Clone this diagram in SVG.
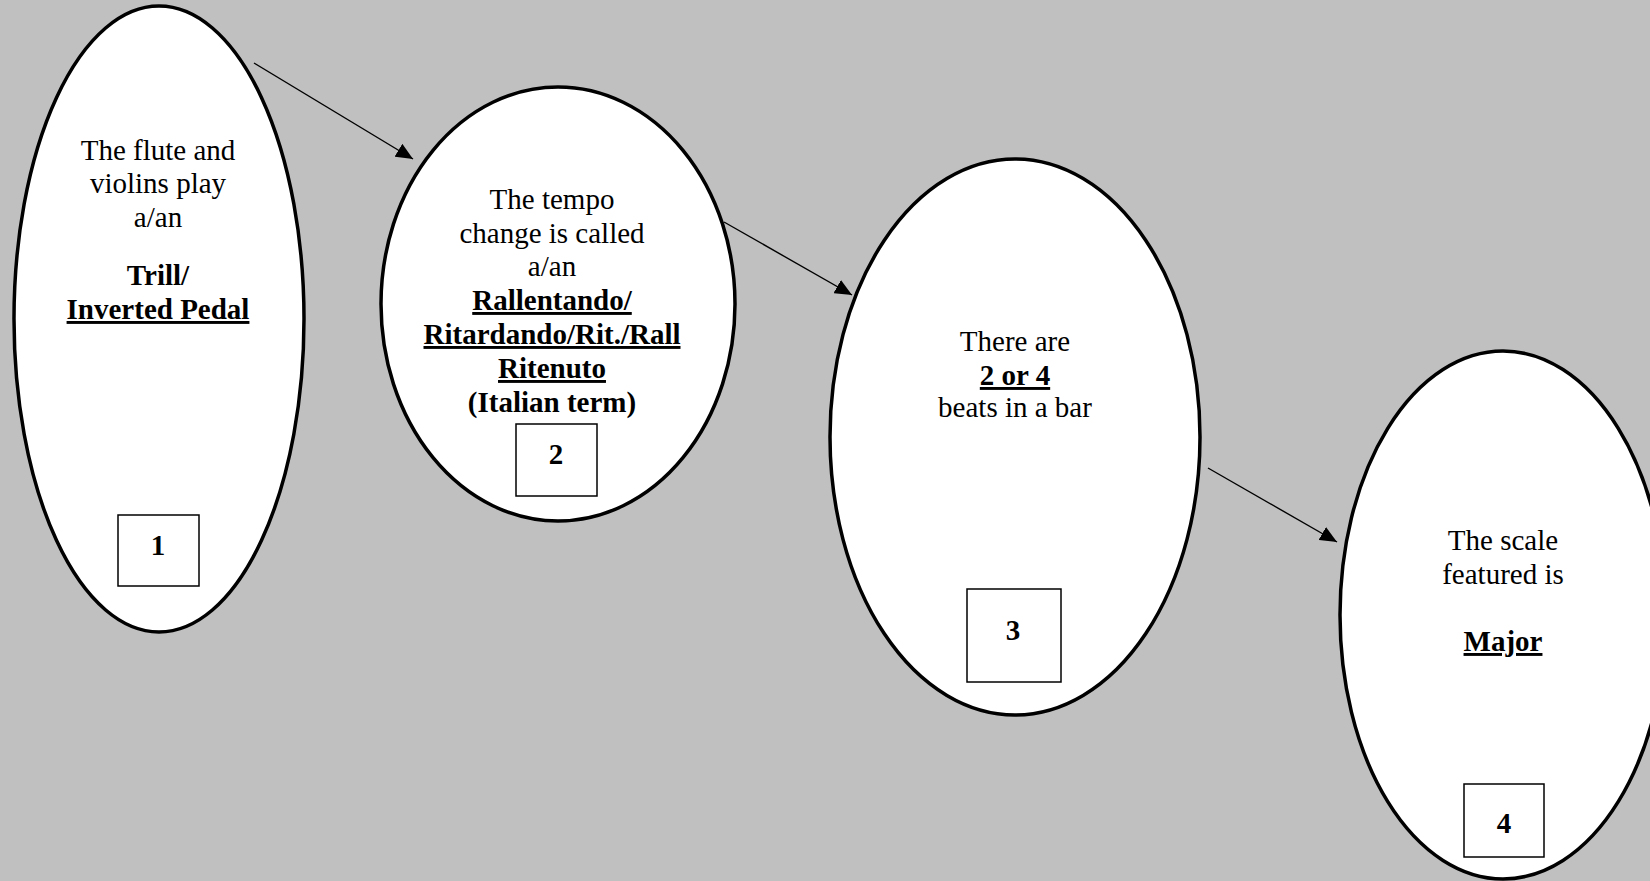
<svg xmlns="http://www.w3.org/2000/svg" width="1650" height="881" viewBox="0 0 1650 881">
<style>
.oval{fill:#fff;stroke:#000;stroke-width:3.5}
.box{fill:#fff;stroke:#000;stroke-width:1.5}
text{font-family:"Liberation Serif","Times New Roman",serif;font-size:29px;fill:#000;text-anchor:middle}
.b{font-weight:bold}
.u{text-decoration:underline}
.conn{stroke:#000;stroke-width:1.4;fill:none;marker-end:url(#ah)}
</style>
<defs>
<marker id="ah" viewBox="0 0 17 15" refX="17" refY="7.5" markerWidth="17" markerHeight="15" markerUnits="userSpaceOnUse" orient="auto">
<path d="M0,0 L17,7.5 L0,15 z" fill="#000"/>
</marker>
</defs>
<rect width="1650" height="881" fill="#c0c0c0"/>
<g id="connectors">
<line class="conn" x1="254" y1="63" x2="413" y2="159"/>
<line class="conn" x1="724" y1="222" x2="852" y2="295"/>
<line class="conn" x1="1208" y1="468" x2="1337" y2="542"/>
</g>
<g id="node1">
<ellipse class="oval" cx="159" cy="319" rx="145" ry="313"/>
<text x="158" y="160">The flute and</text>
<text x="158" y="193">violins play</text>
<text x="158" y="227">a/an</text>
<text class="b" x="158" y="285">Trill/</text>
<text class="b u" x="158" y="319">Inverted Pedal</text>
<rect class="box" x="118" y="515" width="81" height="71"/>
<text class="b" x="158" y="555">1</text>
</g>
<g id="node2">
<ellipse class="oval" cx="558" cy="304" rx="177" ry="217"/>
<text x="552" y="209">The tempo</text>
<text x="552" y="243">change is called</text>
<text x="552" y="276">a/an</text>
<text class="b u" x="552" y="310">Rallentando/</text>
<text class="b u" x="552" y="344">Ritardando/Rit./Rall</text>
<text class="b u" x="552" y="378">Ritenuto</text>
<text class="b" x="552" y="412">(Italian term)</text>
<rect class="box" x="516" y="424" width="81" height="72"/>
<text class="b" x="556" y="464">2</text>
</g>
<g id="node3">
<ellipse class="oval" cx="1015" cy="437" rx="185" ry="278"/>
<text x="1015" y="351">There are</text>
<text class="b u" x="1015" y="385">2 or 4</text>
<text x="1015" y="417">beats in a bar</text>
<rect class="box" x="967" y="589" width="94" height="93"/>
<text class="b" x="1013" y="640">3</text>
</g>
<g id="node4">
<ellipse class="oval" cx="1503" cy="615" rx="163" ry="264"/>
<text x="1503" y="550">The scale</text>
<text x="1503" y="584">featured is</text>
<text class="b u" x="1503" y="651">Major</text>
<rect class="box" x="1464" y="784" width="80" height="73"/>
<text class="b" x="1504" y="833">4</text>
</g>
</svg>
